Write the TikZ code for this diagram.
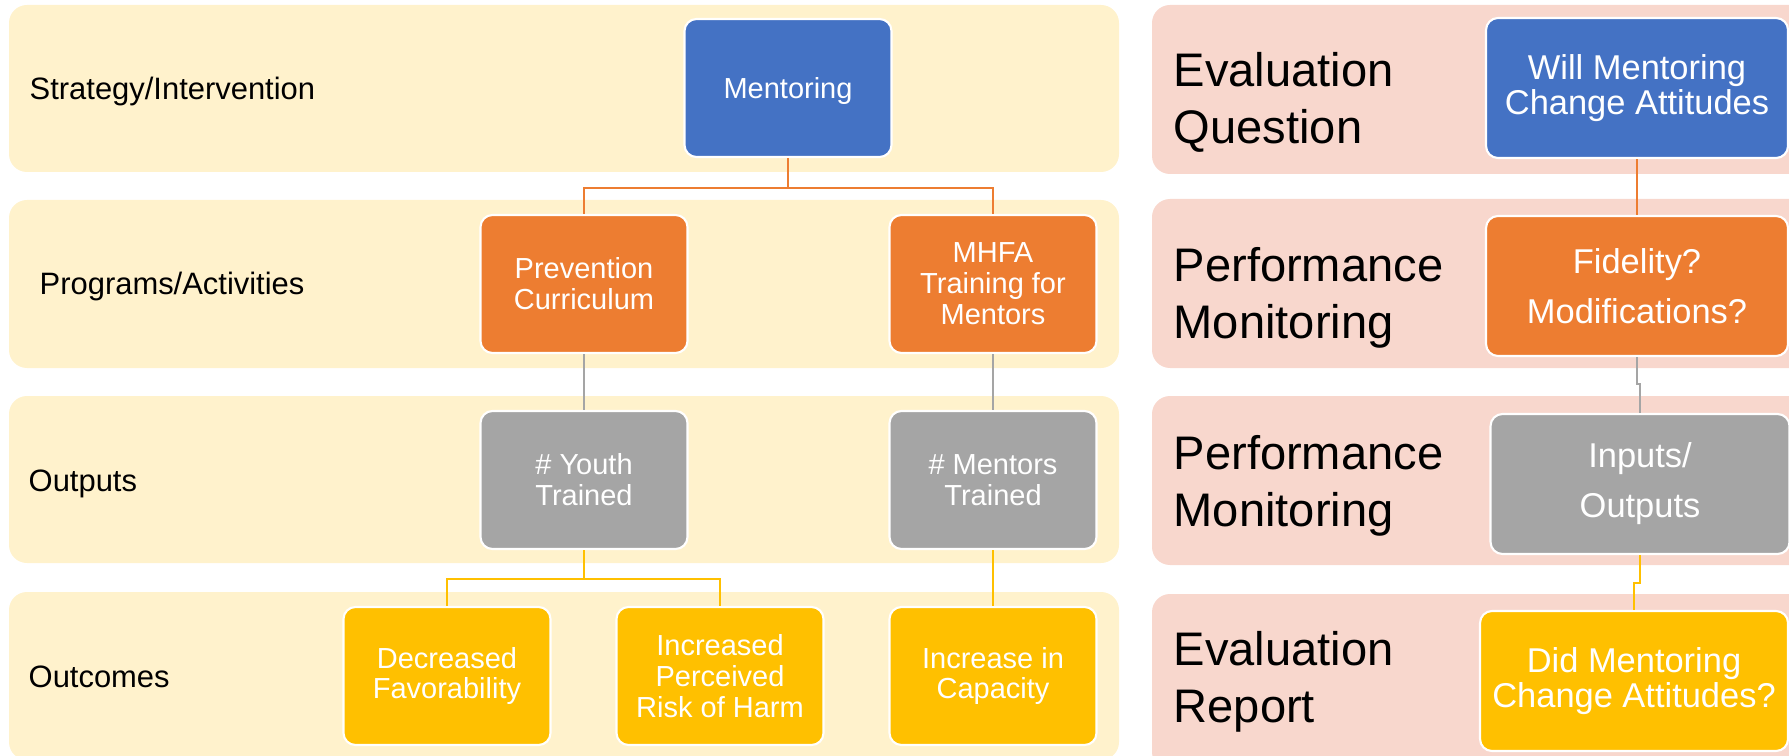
\documentclass[tikz,border=0pt]{standalone}
\usepackage{fontspec}
\setmainfont{Liberation Sans}

\definecolor{bandY}{HTML}{FFF2CC}
\definecolor{bandP}{HTML}{F8D7CD}
\definecolor{boxBlue}{HTML}{4472C4}
\definecolor{boxOrange}{HTML}{ED7D31}
\definecolor{boxGray}{HTML}{A5A5A5}
\definecolor{boxGold}{HTML}{FFC000}

\begin{document}
\begin{tikzpicture}[x=0.1mm,y=-0.1mm,
  box/.style={draw=white, line width=0.6pt, rounded corners=1.2mm, text=white, align=center, inner sep=0pt},
  lbox/.style={box, minimum width=20.7mm, minimum height=13.8mm, font=\fontsize{8.25}{8.8}\selectfont},
  rbox/.style={box, minimum width=30.2mm, minimum height=14mm, font=\fontsize{9.8}{9.9}\selectfont},
  wide/.style={font=\fontsize{9.8}{14.2}\selectfont},
  lab/.style={anchor=west, inner sep=0pt, font=\fontsize{8.8}{10}\selectfont},
  biglab/.style={anchor=west, align=left, inner sep=0pt, font=\fontsize{13.4}{16.2}\selectfont},
  link/.style={line width=0.6pt}]

\useasboundingbox (0,0) rectangle (1789,756);
\clip (0,0) rectangle (1789,756);

%% Bands, left
\fill[bandY, rounded corners=1.8mm] (9,5) rectangle (1119,172);
\fill[bandY, rounded corners=1.8mm] (9,200) rectangle (1119,368);
\fill[bandY, rounded corners=1.8mm] (9,396) rectangle (1119,563);
\fill[bandY, rounded corners=1.8mm] (9,592) rectangle (1119,760);
%% Bands, right
\fill[bandP, rounded corners=1.8mm] (1152,5) rectangle (1840,174);
\fill[bandP, rounded corners=1.8mm] (1152,199) rectangle (1840,368);
\fill[bandP, rounded corners=1.8mm] (1152,396) rectangle (1840,565);
\fill[bandP, rounded corners=1.8mm] (1152,594) rectangle (1840,770);

%% Row labels
\node[lab] (lstrat) at (29,92) {Strategy/Intervention};
\node[lab] (lprog) at (39,287) {Programs/Activities};
\node[lab] (lout) at (28,484) {Outputs};
\node[lab] (lres) at (28,677) {Outcomes};

\node[biglab] (lquest) at (1173,102) {Evaluation\\Question};
\node[biglab] (lperfA) at (1173,298) {Performance\\Monitoring};
\node[biglab] (lperfB) at (1173,486) {Performance\\Monitoring};
\node[biglab] (lrep) at (1173,682) {Evaluation\\Report};

%% Logic model boxes
\node[lbox, fill=boxBlue, text depth=0pt] (ment) at (788,88) {Mentoring};
\node[lbox, fill=boxOrange] (prev) at (584,284) {Prevention\\Curriculum};
\node[lbox, fill=boxOrange] (mhfa) at (993,284) {MHFA\\Training for\\Mentors};
\node[lbox, fill=boxGray] (youth) at (584,480) {\# Youth\\Trained};
\node[lbox, fill=boxGray] (mntr) at (993,480) {\# Mentors\\Trained};
\node[lbox, fill=boxGold] (decr) at (447,676) {Decreased\\Favorability};
\node[lbox, fill=boxGold] (incr) at (720,676) {Increased\\Perceived\\Risk of Harm};
\node[lbox, fill=boxGold] (capa) at (993,676) {Increase in\\Capacity};

%% Evaluation boxes
\node[rbox, fill=boxBlue] (will) at (1637,88) {Will Mentoring\\Change Attitudes};
\node[rbox, wide, fill=boxOrange] (fid) at (1637,286) {Fidelity?\\Modifications?};
\node[rbox, wide, fill=boxGray, minimum width=29.9mm] (inp) at (1640,484) {Inputs/\\Outputs};
\node[rbox, fill=boxGold, minimum width=30.8mm] (did) at (1634,681) {Did Mentoring\\Change Attitudes?};

%% Connectors, left
\draw[link, boxOrange] (ment.south) -- ++(0,30) coordinate (mj) -| (prev.north);
\draw[link, boxOrange] (mj) -| (mhfa.north);
\draw[link, boxGray] (prev.south) -- (youth.north);
\draw[link, boxGray] (mhfa.south) -- (mntr.north);
\draw[link, boxGold] (youth.south) -- ++(0,29) coordinate (yj) -| (decr.north);
\draw[link, boxGold] (yj) -| (incr.north);
\draw[link, boxGold] (mntr.south) -- (capa.north);

%% Connectors, right
\draw[link, boxOrange] (will.south) -- (fid.north);
\draw[link, boxGray] (fid.south) -- ++(0,27) -| (inp.north);
\draw[link, boxGold] (inp.south) -- ++(0,28) -| (did.north);
\end{tikzpicture}
\end{document}
